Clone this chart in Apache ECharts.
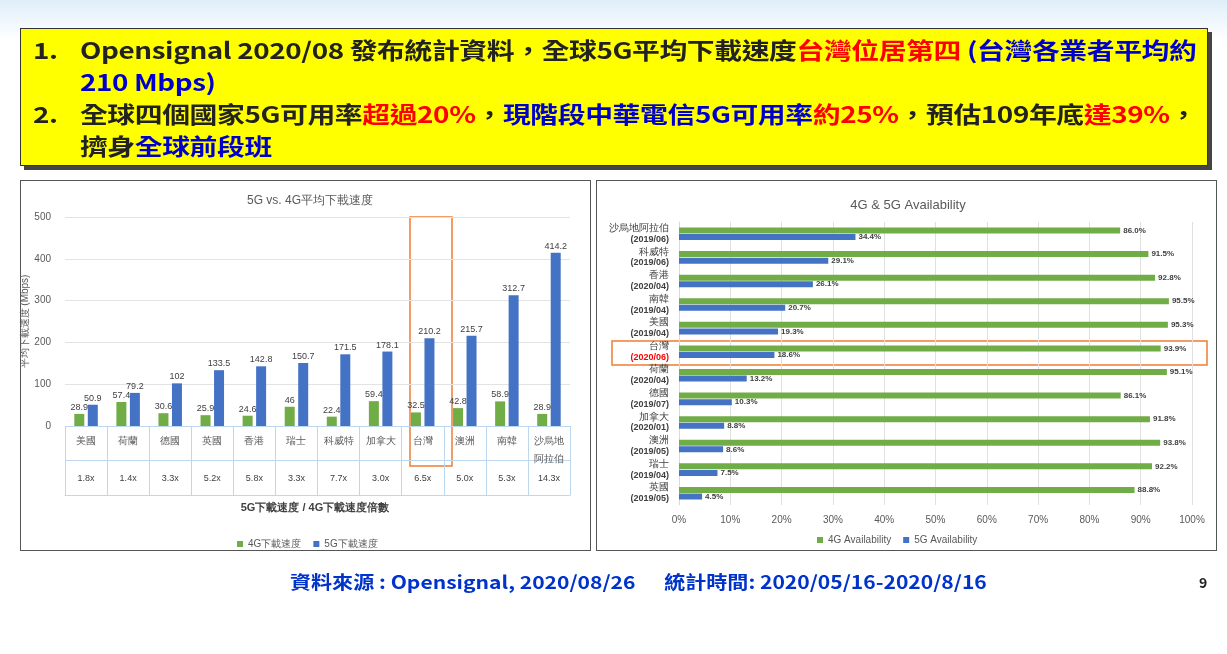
<!DOCTYPE html>
<html><head><meta charset="utf-8">
<script src="https://cdn.jsdelivr.net/npm/echarts@6/dist/echarts.min.js"></script>
<style>
body{margin:0;width:1227px;height:654px;overflow:hidden;background:linear-gradient(#dfeefa 0px,#ffffff 40px,#ffffff 100%);font-family:"Noto Sans CJK TC","Noto Sans",sans-serif;position:relative}
#c{position:absolute;left:0;top:0;width:1227px;height:654px}
.box{position:absolute;left:20px;top:28px;width:1188px;height:138px;background:#ffff00;border:1px solid #333;box-shadow:4px 4px 0 #444;box-sizing:border-box;overflow:hidden}
.inner{position:absolute;left:12px;top:4px;transform:scaleX(1.235);transform-origin:0 0;font-weight:bold;font-size:22.5px;line-height:32px;color:#222;white-space:nowrap;letter-spacing:-0.3px}
.r{color:#ff0000}.b{color:#0000cc}
.li{padding-left:38px;position:relative}
.li span.n{position:absolute;left:0}
.panel{position:absolute;border:1px solid #555;box-sizing:border-box}
.foot{position:absolute;top:568px;left:290px;font-size:18px;font-weight:bold;color:#0033cc;white-space:pre;transform:scaleX(1.17);transform-origin:0 0}
.pg{position:absolute;top:572px;left:1199px;font-size:14px;font-weight:bold;color:#222}
</style></head><body>
<div class="panel" style="left:20px;top:180px;width:571px;height:371px"></div>
<div class="panel" style="left:596px;top:180px;width:621px;height:371px"></div>
<div id="c"></div>
<div class="box"><div class="inner">
<div class="li"><span class="n">1.</span>Opensignal 2020/08 發布統計資料，全球5G平均下載速度<span class="r">台灣位居第四</span> <span class="b">(台灣各業者平均約<br>210 Mbps)</span></div>
<div class="li"><span class="n">2.</span>全球四個國家5G可用率<span class="r">超過20%</span>，<span class="b">現階段中華電信5G可用率</span><span class="r">約25%</span>，預估109年底<span class="r">達39%</span>，<br>擠身<span class="b">全球前段班</span></div>
</div></div>
<div class="foot">資料來源 : Opensignal, 2020/08/26      統計時間: 2020/05/16-2020/8/16</div>
<div class="pg">9</div>
<script>
const speedCats=['美國','荷蘭','德國','英國','香港','瑞士','科威特','加拿大','台灣','澳洲','南韓','沙烏地\n阿拉伯'];
const speed4G=[28.9,57.4,30.6,25.9,24.6,46,22.4,59.4,32.5,42.8,58.9,28.9];
const speed5G=[50.9,79.2,102,133.5,142.8,150.7,171.5,178.1,210.2,215.7,312.7,414.2];
const ratios=['1.8x','1.4x','3.3x','5.2x','5.8x','3.3x','7.7x','3.0x','6.5x','5.0x','5.3x','14.3x'];
const availCats=['沙烏地阿拉伯','科威特','香港','南韓','美國','台灣','荷蘭','德國','加拿大','澳洲','瑞士','英國'];
const availDates=['2019/06','2019/06','2020/04','2019/04','2019/04','2020/06','2020/04','2019/07','2020/01','2019/05','2019/04','2019/05'];
const avail4G=[86.0,91.5,92.8,95.5,95.3,93.9,95.1,86.1,91.8,93.8,92.2,88.8];
const avail5G=[34.4,29.1,26.1,20.7,19.3,18.6,13.2,10.3,8.8,8.6,7.5,4.5];
const G='#70ad47',B='#4472c4';
const chart=echarts.init(document.getElementById('c'));
const lbl={show:true,fontSize:9,color:'#404040',fontFamily:'Liberation Sans'};
chart.setOption({
 animation:false,
 title:[{text:'5G vs. 4G平均下載速度',left:305,textAlign:'center',top:190,textStyle:{fontSize:12,fontWeight:'normal',color:'#595959'}},
        {text:'4G & 5G Availability',left:903,textAlign:'center',top:194,textStyle:{fontSize:13,fontWeight:'normal',color:'#595959'}}],
 legend:[{data:['4G下載速度','5G下載速度'],left:232,top:534,itemWidth:6,itemHeight:6,itemGap:12,textStyle:{fontSize:10,color:'#595959'},icon:'rect'},
         {data:['4G Availability','5G Availability'],left:812,top:530,itemWidth:6,itemHeight:6,itemGap:12,textStyle:{fontSize:10,color:'#595959'},icon:'rect'}],
 grid:[{left:65,top:217,width:505,height:209},{left:65,top:426,width:505,height:69},{left:679,top:222,width:513,height:283}],
 xAxis:[
  {gridIndex:0,type:'category',data:speedCats,axisLine:{show:false},axisTick:{show:false},axisLabel:{fontSize:10,color:'#595959',margin:6,lineHeight:18,verticalAlign:'top'}},
  {gridIndex:1,type:'category',data:ratios,axisLine:{lineStyle:{color:'#bdd7ee'}},axisTick:{show:false},splitLine:{show:true,lineStyle:{color:'#bdd7ee'}},axisLabel:{fontSize:9,color:'#404040',margin:-21,fontFamily:'Liberation Sans'}},
  {gridIndex:2,type:'value',min:0,max:100,interval:10,axisLabel:{formatter:'{value}%',fontSize:10,color:'#595959',margin:10},splitLine:{lineStyle:{color:'#e0e0e0'}},axisLine:{show:false}}
 ],
 yAxis:[
  {gridIndex:0,type:'value',min:0,max:500,interval:100,name:'平均下載速度 (Mbps)',nameLocation:'middle',nameGap:34,nameTextStyle:{fontSize:10,color:'#595959'},axisLabel:{fontSize:10,color:'#595959',margin:14},splitLine:{lineStyle:{color:'#e3e3e3'}}},
  {gridIndex:1,type:'value',min:0,max:2,interval:1,axisLabel:{show:false},splitLine:{show:true,lineStyle:{color:'#bdd7ee'}}},
  {gridIndex:2,type:'category',inverse:true,data:availCats,axisTick:{show:false},axisLine:{lineStyle:{color:'#d9d9d9'}},
   axisLabel:{margin:10,lineHeight:11,formatter:(v,i)=>'{n|'+v+'}\n{'+(v==='台灣'?'r':'d')+'|('+availDates[i]+')}',
    rich:{n:{fontSize:9.5,color:'#404040',align:'right'},d:{fontSize:9,fontWeight:'bold',color:'#404040',align:'right'},r:{fontSize:9,fontWeight:'bold',color:'#ff0000',align:'right'}}}}
 ],
 series:[
  {name:'4G下載速度',type:'bar',xAxisIndex:0,yAxisIndex:0,data:speed4G,barWidth:10,barGap:'35%',itemStyle:{color:G},label:{...lbl,position:'top',distance:2}},
  {name:'5G下載速度',type:'bar',xAxisIndex:0,yAxisIndex:0,data:speed5G,barWidth:10,itemStyle:{color:B},label:{...lbl,position:'top',distance:2}},
  {name:'4G Availability',type:'bar',xAxisIndex:2,yAxisIndex:2,data:avail4G,barWidth:6,barGap:'10%',itemStyle:{color:G},label:{...lbl,fontSize:8,fontWeight:'bold',position:'right',distance:3,formatter:p=>p.value.toFixed(1)+'%'}},
  {name:'5G Availability',type:'bar',xAxisIndex:2,yAxisIndex:2,data:avail5G,barWidth:6,itemStyle:{color:B},label:{...lbl,fontSize:8,fontWeight:'bold',position:'right',distance:3,formatter:p=>p.value.toFixed(1)+'%'}}
 ],
 graphic:[
  {type:'text',style:{text:'5G下載速度 / 4G下載速度倍數',x:315,y:502,fontSize:11,fontWeight:'bold',fill:'#404040',textAlign:'center'}},
  {type:'rect',shape:{x:410,y:217,width:42,height:249},style:{fill:'none',stroke:'#ed7d31',lineWidth:1.5}},
  {type:'rect',shape:{x:612,y:341,width:595,height:24},style:{fill:'none',stroke:'#ed7d31',lineWidth:1.5}}
 ]
});
</script></body></html>
